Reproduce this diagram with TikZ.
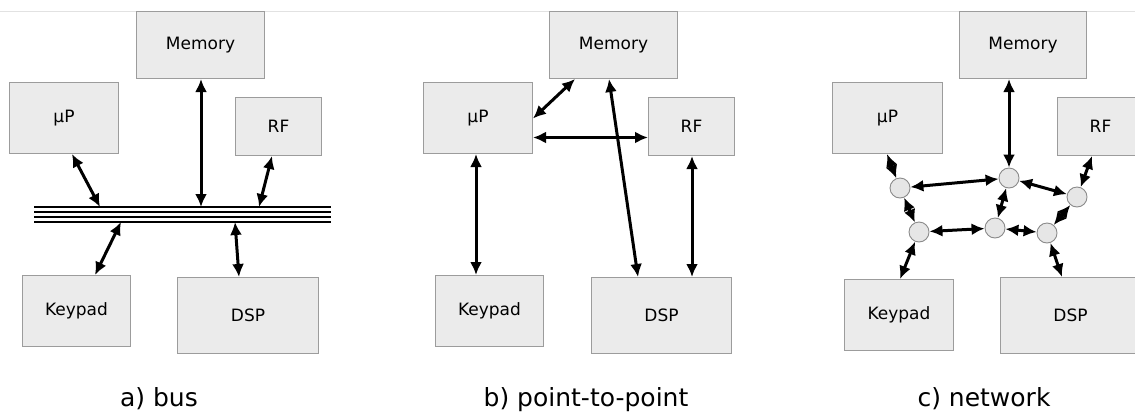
\documentclass[tikz,border=0pt]{standalone}
\usepackage{fontspec}
\setmainfont{DejaVu Sans}
\usetikzlibrary{arrows.meta}
\definecolor{boxfill}{HTML}{EBEBEB}
\definecolor{boxline}{HTML}{9C9C9C}
\definecolor{circfill}{HTML}{E6E6E6}
\definecolor{circline}{HTML}{8A8A8A}
\definecolor{topline}{HTML}{E2E2E2}
\tikzset{
  blk/.style={draw=boxline, fill=boxfill, line width=1pt, inner sep=0pt, anchor=north west,
    font=\fontsize{17}{20}\selectfont},
  hub/.style={circle, draw=circline, fill=circfill, line width=0.9pt, minimum size=20pt, inner sep=0pt},
  link/.style={line width=3pt, >={Latex[length=13pt,width=12pt]}, <->},
  buswire/.style={line width=1.8pt},
  captiontext/.style={anchor=base, font=\fontsize{25}{30}\selectfont}
}
\begin{document}
\begin{tikzpicture}[x=1pt,y=-1pt]
\clip (0,0) rectangle (1135,413);
\fill[white] (0,0) rectangle (1135,413);
\draw[topline, line width=0.8pt] (0,11) -- (1135,11);

% ---------- a) bus ----------
\node[blk, minimum width=128pt, minimum height=67pt] (aMem) at (136,11) {Memory};
\node[blk, minimum width=109pt, minimum height=71pt] (aUP) at (9,82) {µP};
\node[blk, minimum width=86pt, minimum height=58pt] (aRF) at (235,97) {RF};
\node[blk, minimum width=108pt, minimum height=71pt] (aKey) at (22,275) {Keypad};
\node[blk, minimum width=141pt, minimum height=76pt] (aDSP) at (177,277) {DSP};
\coordinate (busL) at (34,207);
\coordinate (busR) at (331,207);
\foreach \k in {0,5,10,15} {
  \draw[buswire] ([yshift=-\k pt]busL) -- ([yshift=-\k pt]busR);
}
\coordinate (bUP) at (100,207);
\coordinate (bMem) at (201,207);
\coordinate (bRF) at (259,207);
\coordinate (bKey) at (121,222);
\coordinate (bDSP) at (235,222);
\draw[link] ([xshift=63pt]aUP.south west) -- (bUP);
\draw[link] ([xshift=65pt]aMem.south west) -- (bMem);
\draw[link] ([xshift=37pt]aRF.south west) -- (bRF);
\draw[link] (bKey) -- ([xshift=73pt]aKey.north west);
\draw[link] (bDSP) -- ([xshift=62pt]aDSP.north west);
\node[captiontext] (capA) at (159,406) {a) bus};

% ---------- b) point-to-point ----------
\node[blk, minimum width=128pt, minimum height=67pt] (pMem) at (549,11) {Memory};
\node[blk, minimum width=109pt, minimum height=71pt] (pUP) at (423,82) {µP};
\node[blk, minimum width=86pt, minimum height=58pt] (pRF) at (648,97) {RF};
\node[blk, minimum width=108pt, minimum height=71pt] (pKey) at (435,275) {Keypad};
\node[blk, minimum width=140pt, minimum height=76pt] (pDSP) at (591,277) {DSP};
\draw[link] ([yshift=-0.5pt]pUP.east) -- ([xshift=26pt]pMem.south west);
\draw[link] ([yshift=-19.5pt]pUP.east) -- ([yshift=-11pt]pRF.west);
\draw[link] ([xshift=60pt]pMem.south west) -- ([xshift=47pt]pDSP.north west);
\draw[link] ([xshift=53pt]pUP.south west) -- ([xshift=41pt]pKey.north west);
\draw[link] ([xshift=44pt]pRF.south west) -- ([xshift=101pt]pDSP.north west);
\node[captiontext] (capB) at (586,406) {b) point-to-point};

% ---------- c) network ----------
\node[blk, minimum width=127pt, minimum height=67pt] (nMem) at (959,11) {Memory};
\node[blk, minimum width=110pt, minimum height=71pt] (nUP) at (832,82) {µP};
\node[blk, minimum width=86pt, minimum height=58pt] (nRF) at (1057,97) {RF};
\node[blk, minimum width=109pt, minimum height=71pt] (nKey) at (844,279) {Keypad};
\node[blk, minimum width=140pt, minimum height=76pt] (nDSP) at (1000,277) {DSP};
\node[hub] (h1) at (900,188) {};
\node[hub] (h2) at (1009,178) {};
\node[hub] (h3) at (1077,197) {};
\node[hub] (h4) at (919,232) {};
\node[hub] (h5) at (995,228) {};
\node[hub] (h6) at (1047,233) {};
\draw[link] ([xshift=55pt]nUP.south west) -- (h1);
\draw[link] ([xshift=50pt]nMem.south west) -- (h2);
\draw[link] ([xshift=35pt]nRF.south west) -- (h3);
\draw[link] (h1) -- (h2);
\draw[link] (h2) -- (h3);
\draw[link] (h1) -- (h4);
\draw[link] (h2) -- (h5);
\draw[link] (h3) -- (h6);
\draw[link] (h4) -- (h5);
\draw[link] (h5) -- (h6);
\draw[link] (h4) -- ([xshift=56pt]nKey.north west);
\draw[link] (h6) -- ([xshift=62pt]nDSP.north west);
\node[captiontext] (capC) at (984,406) {c) network};
\end{tikzpicture}
\end{document}
